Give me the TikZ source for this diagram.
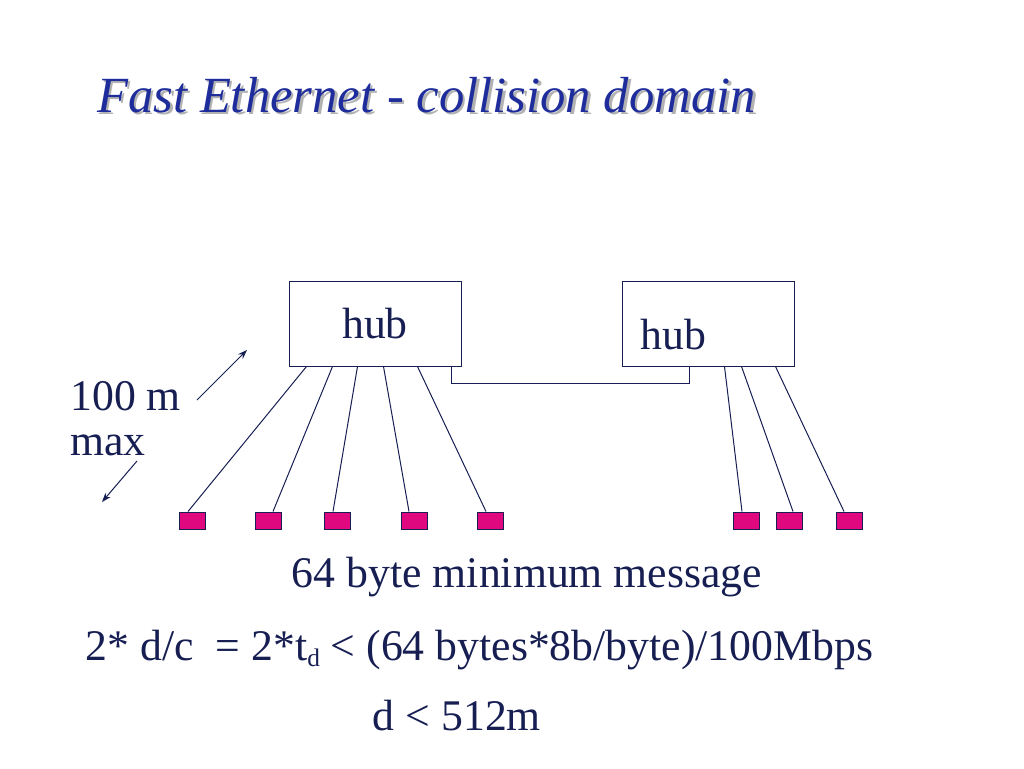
\documentclass[tikz,border=0pt]{standalone}
\usepackage{fontspec}
\setmainfont{Liberation Serif}
\usetikzlibrary{positioning}
\usetikzlibrary{arrows.meta}
\definecolor{navy}{RGB}{22,30,82}
\definecolor{titleblue}{RGB}{30,45,155}
\definecolor{stationpink}{RGB}{224,8,127}

\begin{document}
\begin{tikzpicture}[x=0.75pt, y=-0.75pt,
		hub/.style = {draw=navy, line width=0.75pt, minimum width=129pt, minimum height=63.75pt, inner sep=0pt},
		station/.style = {draw=navy, fill=stationpink, line width=0.75pt, minimum width=19.5pt, minimum height=12.75pt, inner sep=0pt},
		txt/.style = {text=navy, font=\fontsize{32.8}{38}\selectfont, inner sep=0pt},
		titletxt/.style = {font=\itshape\fontsize{38}{44}\selectfont, inner sep=0pt, anchor=base west},
		link/.style = {draw=navy, line width=0.75pt}]
	\useasboundingbox (0,0) rectangle (1024,768);
	% title with its shadow
	\node[titletxt, text=black!30] (titleshadow) at (99.5,114.5) {Fast Ethernet - collision domain};
	\node[titletxt, text=titleblue] (title) at (97,112) {Fast Ethernet - collision domain};
	% hubs
	\node[hub, txt] (hubA) at (375,323.5) {hub};
	\node[hub] (hubB) at (708,323.5) {};
	\node[txt, above right=12pt and 14.25pt of hubB.south west] (hubBtext) {hub};
	% stations
	\node[station] (a1) at (192,520.5) {};
	\node[station] (a2) at (268,520.5) {};
	\node[station] (a3) at (337,520.5) {};
	\node[station] (a4) at (414,520.5) {};
	\node[station] (a5) at (490,520.5) {};
	\node[station] (b1) at (746,520.5) {};
	\node[station] (b2) at (789,520.5) {};
	\node[station] (b3) at (849,520.5) {};
	% links
	\draw[link] ([xshift=13.5pt]hubA.south west) -- ([xshift=-3pt]a1.north);
	\draw[link] ([xshift=33pt]hubA.south west) -- ([xshift=3.75pt]a2.north);
	\draw[link] ([xshift=51.75pt]hubA.south west) -- ([xshift=-3pt]a3.north);
	\draw[link] ([xshift=71.25pt]hubA.south west) -- ([xshift=-3.75pt]a4.north);
	\draw[link] ([xshift=96.75pt]hubA.south west) -- ([xshift=-3pt]a5.north);
	\draw[link] ([xshift=77.25pt]hubB.south west) -- ([xshift=-3pt]b1.north);
	\draw[link] ([xshift=90pt]hubB.south west) -- ([xshift=3pt]b2.north);
	\draw[link] ([xshift=115.5pt]hubB.south west) -- ([xshift=-3.75pt]b3.north);
	\draw[link] ([xshift=122.25pt]hubA.south west) -- ++(0,17) -| ([xshift=51pt]hubB.south west);
	% 100 m max
	\node[txt, anchor=base west] (hundred) at (70,410) {100 m};
	\node[txt, anchor=base west] (max) at (70,455) {max};
	\coordinate (upTail) at (197,400);
	\coordinate (upHead) at (247,350);
	\coordinate (downTail) at (137,461);
	\coordinate (downHead) at (102,502);
	\draw[link, -{Stealth[length=7pt, width=5pt]}] (upTail) -- (upHead);
	\draw[link, -{Stealth[length=7pt, width=5pt]}] (downTail) -- (downHead);
	% bottom text
	\node[txt, anchor=base] (minmsg) at (527,587) {64 byte minimum message};
	\node[txt, anchor=base] (formula) at (479.5,660) {2* d/c \ = 2*t\raisebox{-5pt}{\fontsize{19}{19}\selectfont d} < (64 bytes*8b/byte)/100Mbps};
	\node[txt, anchor=base] (result) at (457,730) {d < 512m};
\end{tikzpicture}
\end{document}
